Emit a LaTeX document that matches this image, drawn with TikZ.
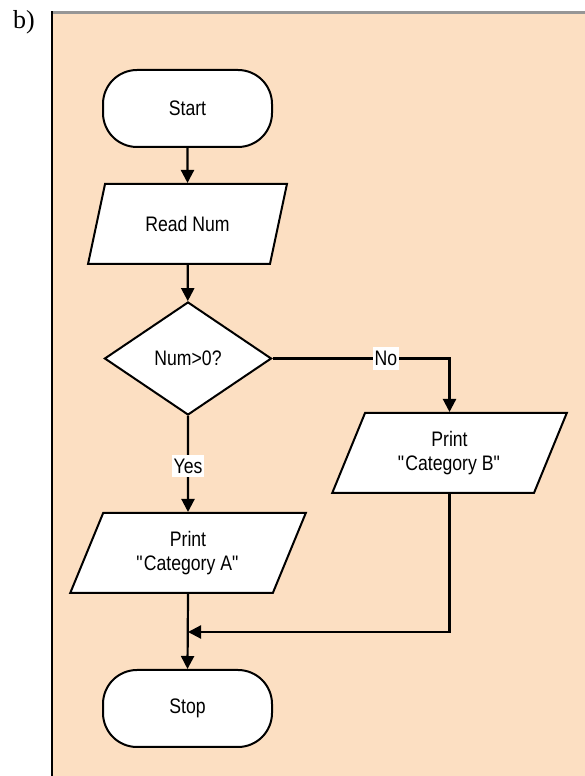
\documentclass[tikz,border=0pt]{standalone}
\usepackage{fontspec}
\setmainfont{Liberation Sans}[FakeStretch = 0.84]
\newfontfamily\partfont{Liberation Serif}
\usetikzlibrary{shapes.geometric,arrows.meta}
\definecolor{panelbg}{RGB}{252,223,194}
\definecolor{topline}{RGB}{150,150,150}

\begin{document}
\begin{tikzpicture}[x = 1pt, y = 1pt,
    every node/.style = {font = \fontsize{21}{24}\selectfont},
    term/.style = {draw, line width = 2pt, fill = white, rectangle, rounded corners = 34pt, minimum width = 169pt, minimum height = 77pt},
    io/.style = {draw, line width = 2pt, fill = white, trapezium, trapezium left angle = 67, trapezium right angle = 113, trapezium stretches = true, minimum height = 80pt, align = center},
    decision/.style = {draw, line width = 2pt, fill = white, diamond, aspect = 1.5, inner sep = 0pt, minimum width = 167pt, minimum height = 113pt},
    flow/.style = {line width = 2.2pt, -{Triangle[width = 13pt, length = 13pt]}},
    lbl/.style = {fill = white, inner xsep = 2pt, inner ysep = 4pt}]
    \useasboundingbox (0, 0) rectangle (585, 776);
    \fill[panelbg] (52, 0) rectangle (585, 763);
    \draw[topline, line width = 3pt] (52, 763) -- (585, 763);
    \draw[line width = 2pt] (52, 0) -- (52, 764.5);
    \node[anchor = north west, inner sep = 0pt, font = \partfont\fontsize{26}{30}\selectfont] (part) at (13, 766) {b)};

    \node[term] (start) at (187.5, 667.5) {Start};
    \node[io, minimum width = 199pt] (read) at (187.5, 552) {Read Num};
    \node[decision] (dec) at (188, 417.5) {Num>0?};
    \node[io, minimum width = 236pt] (printA) at (188, 223) {Print\\\textquotedbl Category A\textquotedbl};
    \node[io, minimum width = 235pt] (printB) at (449.5, 323) {Print\\\textquotedbl Category B\textquotedbl};
    \node[term] (stop) at (187.5, 67.5) {Stop};
    \coordinate (join) at (188, 144);

    \draw[flow] (start) -- (read);
    \draw[flow] (read) -- (dec);
    \draw[flow] (dec.east) -| node[lbl, pos = 0.32]{No} (printB.north);
    \draw[flow] (dec.south) -- node[lbl, pos = 0.52]{Yes} (printA.north);
    \draw[flow] (printB.south) |- (join);
    \draw[flow] (printA.south) -- (stop.north);
\end{tikzpicture}
\end{document}
